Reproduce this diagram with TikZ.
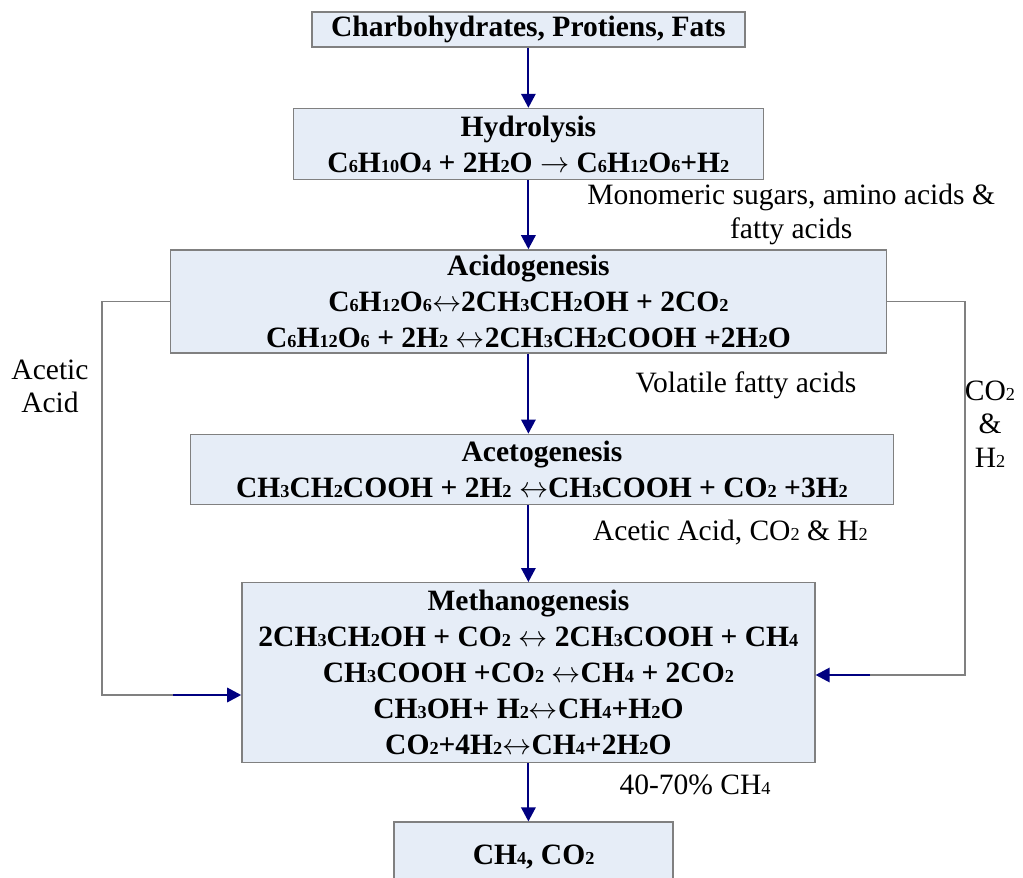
\documentclass[tikz,border=0pt]{standalone}
\usepackage{fontspec}
\setmainfont{Liberation Serif}
\usetikzlibrary{positioning, arrows.meta}

\definecolor{stagefill}{RGB}{230,237,247}
\definecolor{stageline}{RGB}{128,128,128}
\definecolor{flowblue}{RGB}{0,0,128}
\newcommand{\ix}[1]{{\fontsize{13}{13}\selectfont #1}}
\newcommand{\eqv}{\ensuremath{\leftrightarrow}}
\newcommand{\yields}{\ensuremath{\rightarrow}}

\begin{document}
\begin{tikzpicture}[
    node distance=1.5cm,
    stage/.style={draw=stageline, line width=1pt, fill=stagefill, inner sep=0pt,
      align=center, font=\fontsize{21}{25.6}\selectfont\bfseries},
    arr/.style={-{Triangle[length=0.35cm, width=0.36cm]}, flowblue, line width=1.4pt},
    loop/.style={stageline, line width=0.8pt},
    lbl/.style={align=center, font=\fontsize{21}{27}\selectfont}]
    \useasboundingbox (0,0) rectangle (25.575,-21.95);
    \node[stage, minimum width=10.83cm, minimum height=0.875cm] (feed) at (13.21,-0.74)
      {Charbohydrates, Protiens, Fats};
    \node[stage, minimum width=11.75cm, minimum height=1.775cm, below=1.5cm of feed] (hydro)
      {Hydrolysis\\C\ix{6}H\ix{10}O\ix{4} + 2H\ix{2}O \yields{} C\ix{6}H\ix{12}O\ix{6}+H\ix{2}};
    \node[stage, minimum width=17.9cm, minimum height=2.575cm, below=1.725cm of hydro] (acido)
      {Acidogenesis\\C\ix{6}H\ix{12}O\ix{6}\eqv2CH\ix{3}CH\ix{2}OH + 2CO\ix{2}\\
       C\ix{6}H\ix{12}O\ix{6} + 2H\ix{2} \eqv2CH\ix{3}CH\ix{2}COOH +2H\ix{2}O};
    \node[stage, minimum width=17.575cm, minimum height=1.75cm, below=2cm of acido, xshift=0.34cm] (aceto)
      {Acetogenesis\\CH\ix{3}CH\ix{2}COOH + 2H\ix{2} \eqv CH\ix{3}COOH + CO\ix{2} +3H\ix{2}};
    \node[stage, minimum width=14.325cm, minimum height=4.5cm, below=1.925cm of aceto, xshift=-0.34cm] (methano)
      {Methanogenesis\\2CH\ix{3}CH\ix{2}OH + CO\ix{2} \eqv{} 2CH\ix{3}COOH + CH\ix{4}\\
       CH\ix{3}COOH +CO\ix{2} \eqv CH\ix{4} + 2CO\ix{2}\\
       CH\ix{3}OH+ H\ix{2}\eqv CH\ix{4}+H\ix{2}O\\
       CO\ix{2}+4H\ix{2}\eqv CH\ix{4}+2H\ix{2}O};
    \node[stage, minimum width=6.975cm, minimum height=1.75cm, below=1.45cm of methano, xshift=0.13cm] (biogas)
      {CH\ix{4}, CO\ix{2}};
    % main chain
    \draw[arr] (feed) -- (feed |- hydro.north);
    \draw[arr] (hydro) -- (hydro |- acido.north);
    \draw[arr] (acido) -- (acido |- aceto.north);
    \draw[arr] (acido.south |- aceto.south) -- (acido.south |- methano.north);
    \draw[arr] (methano) -- (methano.south |- biogas.north);
    % side loops
    \coordinate (lturn) at (2.55,-17.375);
    \coordinate (lfoot) at (4.33,-17.375);
    \coordinate (rturn) at (24.125,-16.875);
    \coordinate (rfoot) at (21.75,-16.875);
    \draw[loop] (acido.west) -| (lturn) -- (lfoot);
    \draw[arr] (lfoot) -- (lfoot -| methano.west);
    \draw[loop] (acido.east) -| (rturn) -- (rfoot);
    \draw[arr] (rfoot) -- (rfoot -| methano.east);
    % labels
    \node[lbl, font=\fontsize{21}{24}\selectfont] (sugars) at (19.78,-5.36) {Monomeric sugars, amino acids \&\\fatty acids};
    \node[lbl] (vfa) at (18.65,-9.625) {Volatile fatty acids};
    \node[lbl] (acet) at (18.26,-13.325) {Acetic Acid, CO\ix{2} \& H\ix{2}};
    \node[lbl] (yield) at (17.375,-19.625) {40-70\% CH\ix{4}};
    \node[lbl, font=\fontsize{21}{23.5}\selectfont] (acetic) at (1.25,-9.65) {Acetic\\Acid};
    \node[lbl, font=\fontsize{21}{24}\selectfont] (gas) at (24.75,-10.6) {CO\ix{2}\\\&\\H\ix{2}};
  \end{tikzpicture}
\end{document}
